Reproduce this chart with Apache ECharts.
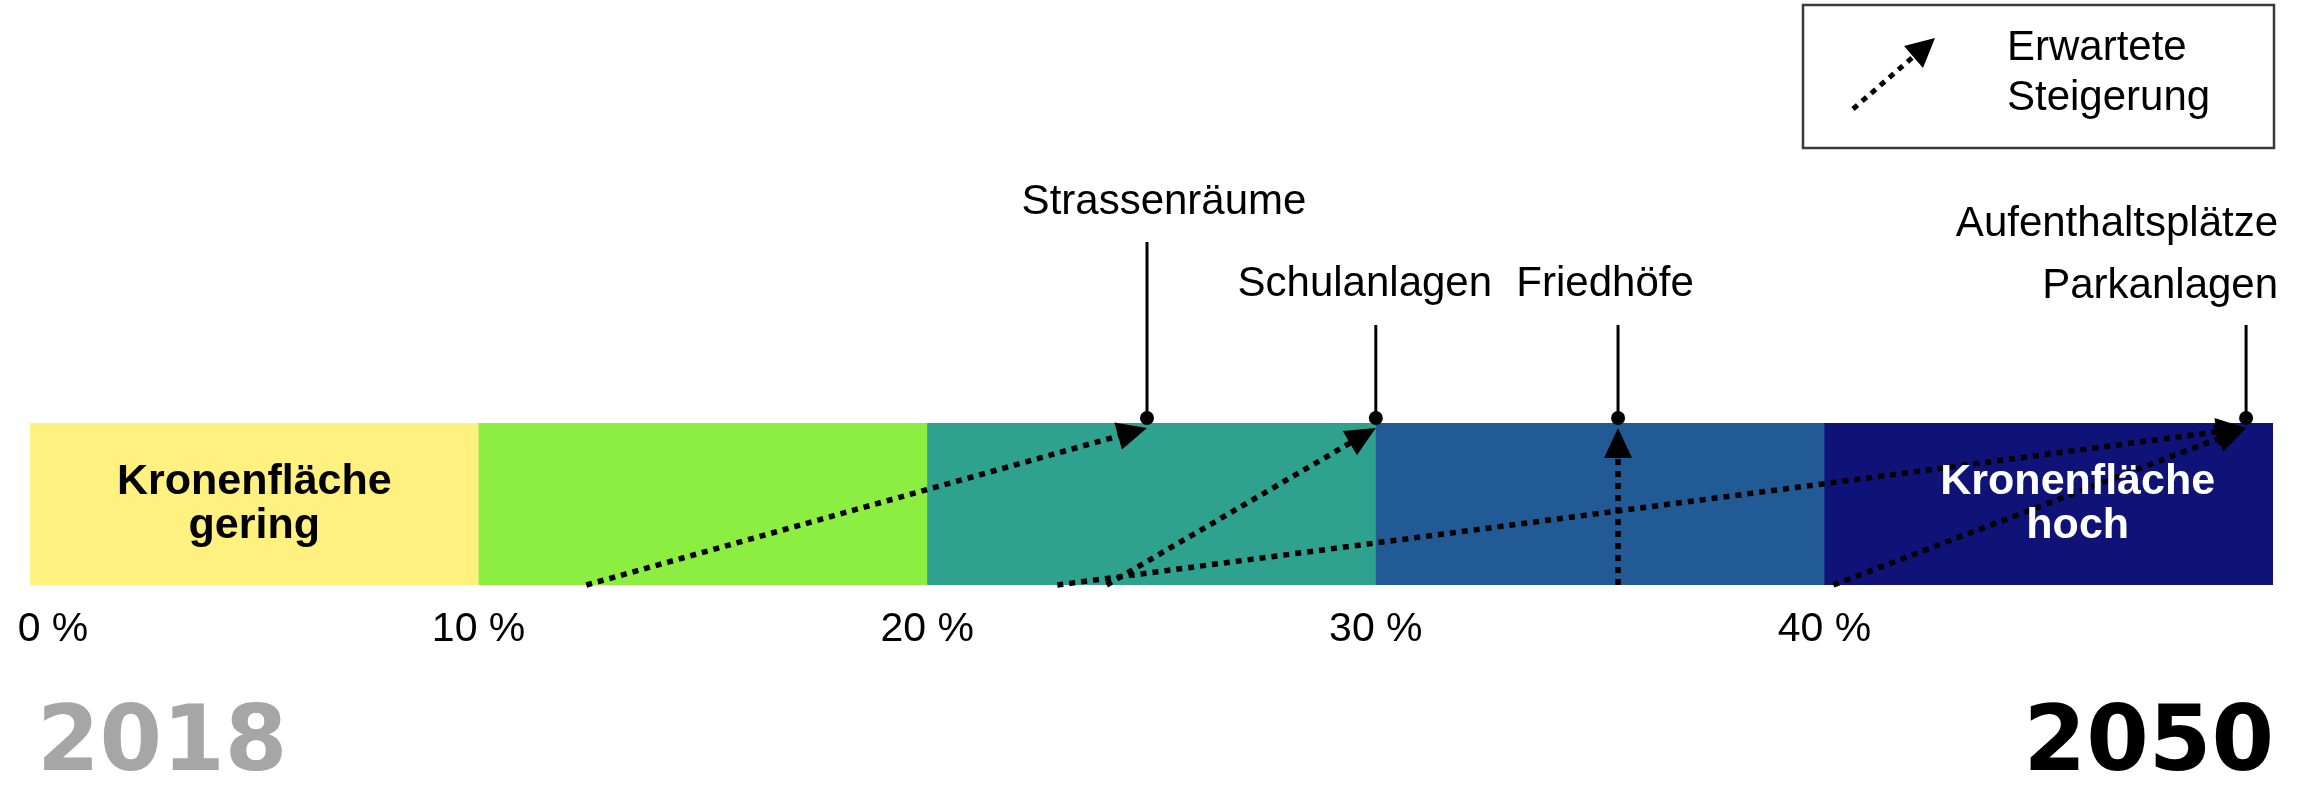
<!DOCTYPE html>
<html>
<head>
<meta charset="utf-8">
<script src="https://cdn.jsdelivr.net/npm/echarts@6/dist/echarts.min.js"></script>
<style>
html, body { margin: 0; padding: 0; background: #fff; }
#chart { width: 2310px; height: 785px; }
</style>
</head>
<body>
<div id="chart"></div>
<script>
// Skala Kronenfläche (%)
const tickValues = [0, 10, 20, 30, 40]
const segmentStart = [0, 10, 20, 30, 40]
const segmentEnd = [10, 20, 30, 40, 50]
const segmentLabels = ['Kronenfläche\ngering', '', '', '', 'Kronenfläche\nhoch']

// Zielwerte 2050 je Freiraumtyp
const targetNames = ['Strassenräume', 'Schulanlagen', 'Friedhöfe', 'Aufenthaltsplätze\nParkanlagen']
const targetValues = [24.9, 30, 35.4, 49.4]

// erwartete Steigerung: Stand 2018 -> Ziel 2050
const arrowFrom = [12.4, 24.0, 35.4, 22.9, 40.2]
const arrowTo = [24.9, 30, 35.4, 49.4, 49.4]

const yearStart = '2018'
const yearEnd = '2050'
const legendText = 'Erwartete\nSteigerung'

// styles / layout
const font = '"Liberation Sans", Arial, sans-serif'
const yearFont = '"DejaVu Sans", "Liberation Sans", sans-serif'
const segmentColors = ['#fff17f', '#8dee42', '#2fa28f', '#225a95', '#0f1277']
const segmentTextColors = ['#000', '#000', '#fff', '#fff', '#fff']
const segmentLabelShift = [0, 0, 0, 0, 29]
const stemHeight = [181, 98, 98, 98]
const labelRise = [221, 139, 139, 168]
const labelShift = [17, -11, -13, 32]
const labelAlign = ['center', 'center', 'center', 'right']

const chart = echarts.init(document.getElementById('chart'))

function renderSegment (params, api) {
  const i = params.dataIndex
  const p0 = api.coord([api.value(0), 1])
  const p1 = api.coord([api.value(1), 0])
  const extra = i < segmentStart.length - 1 ? 1 : 0
  return {
    type: 'rect',
    shape: { x: p0[0], y: p0[1], width: p1[0] - p0[0] + extra, height: p1[1] - p0[1] },
    style: { fill: segmentColors[i] }
  }
}

function renderSegmentLabel (params, api) {
  const i = params.dataIndex
  const a = api.coord([api.value(0), 0.5])
  const b = api.coord([api.value(1), 0.5])
  return {
    type: 'text',
    x: (a[0] + b[0]) / 2 + segmentLabelShift[i],
    y: a[1],
    style: {
      text: segmentLabels[i],
      fill: segmentTextColors[i],
      fontFamily: font,
      fontWeight: 'bold',
      fontSize: 43,
      lineHeight: 44,
      align: 'center',
      verticalAlign: 'middle'
    }
  }
}

function renderArrow (params, api) {
  const p0 = api.coord([api.value(0), 0])
  const top = api.coord([api.value(1), 1])
  const tip = [top[0], top[1] + 5]
  const dx = tip[0] - p0[0]
  const dy = tip[1] - p0[1]
  const len = Math.sqrt(dx * dx + dy * dy)
  const ux = dx / len
  const uy = dy / len
  const headLen = 30
  const headW = 28
  const base = [tip[0] - ux * headLen, tip[1] - uy * headLen]
  const nx = -uy
  const ny = ux
  return {
    type: 'group',
    children: [
      {
        type: 'line',
        shape: { x1: p0[0], y1: p0[1], x2: base[0] + ux * 2, y2: base[1] + uy * 2 },
        style: { stroke: '#000', lineWidth: 5.5, lineDash: [6, 6], lineCap: 'butt' }
      },
      {
        type: 'polygon',
        shape: {
          points: [
            tip,
            [base[0] + nx * headW / 2, base[1] + ny * headW / 2],
            [base[0] - nx * headW / 2, base[1] - ny * headW / 2]
          ]
        },
        style: { fill: '#000' }
      }
    ]
  }
}

function renderTarget (params, api) {
  const i = params.dataIndex
  const p = api.coord([api.value(0), 1])
  return {
    type: 'group',
    children: [
      {
        type: 'line',
        shape: { x1: p[0], y1: p[1] - 5, x2: p[0], y2: p[1] - stemHeight[i] },
        style: { stroke: '#000', lineWidth: 3 }
      },
      {
        type: 'circle',
        shape: { cx: p[0], cy: p[1] - 5, r: 7 },
        style: { fill: '#000' }
      },
      {
        type: 'text',
        x: p[0] + labelShift[i],
        y: p[1] - labelRise[i],
        style: {
          text: targetNames[i],
          fill: '#000',
          fontFamily: font,
          fontSize: 42,
          lineHeight: 62,
          align: labelAlign[i],
          verticalAlign: 'middle'
        }
      }
    ]
  }
}

const option = {
  animation: false,
  backgroundColor: '#fff',
  grid: {
    left: 30,
    right: 37,
    top: 423,
    bottom: 200,
    outerBoundsMode: 'none'
  },
  xAxis: {
    type: 'value',
    min: 0,
    max: 50,
    interval: 10,
    axisLine: { show: false },
    axisTick: { show: false },
    splitLine: { show: false },
    axisLabel: {
      margin: 24,
      color: '#000',
      fontFamily: font,
      fontSize: 41,
      formatter: function (v) {
        if (v === tickValues[0]) return '{first|' + v + ' %}'
        return tickValues.indexOf(v) >= 0 ? v + ' %' : ''
      },
      rich: {
        first: { padding: [0, 0, 0, 46], color: '#000', fontFamily: font, fontSize: 41 }
      }
    }
  },
  yAxis: {
    type: 'value',
    min: 0,
    max: 1,
    show: false
  },
  series: [
    {
      type: 'custom',
      z: 1,
      clip: false,
      renderItem: renderSegment,
      encode: { x: [0, 1] },
      data: segmentStart.map((s, i) => [s, segmentEnd[i]])
    },
    {
      type: 'custom',
      z: 2,
      clip: false,
      renderItem: renderArrow,
      encode: { x: [0, 1] },
      data: arrowFrom.map((f, i) => [f, arrowTo[i]])
    },
    {
      type: 'custom',
      z: 3,
      clip: false,
      renderItem: renderSegmentLabel,
      encode: { x: [0, 1] },
      data: segmentStart.map((s, i) => [s, segmentEnd[i]])
    },
    {
      type: 'custom',
      z: 3,
      clip: false,
      renderItem: renderTarget,
      encode: { x: 0 },
      data: targetValues.map(v => [v])
    }
  ],
  graphic: [
    {
      type: 'rect',
      shape: { x: 1803, y: 5, width: 471, height: 143 },
      style: { fill: '#fff', stroke: '#3a3a3a', lineWidth: 2.5 }
    },
    {
      type: 'line',
      shape: { x1: 1853, y1: 109, x2: 1913, y2: 57 },
      style: { stroke: '#000', lineWidth: 5, lineDash: [6, 6] }
    },
    {
      type: 'polygon',
      shape: { points: [[1935, 38], [1904, 46], [1923, 68]] },
      style: { fill: '#000' }
    },
    {
      type: 'text',
      x: 2007,
      y: 73,
      style: {
        text: legendText,
        fill: '#000',
        fontFamily: font,
        fontSize: 42,
        lineHeight: 50,
        align: 'left',
        verticalAlign: 'middle'
      }
    },
    {
      type: 'text',
      x: 37,
      y: 747,
      style: {
        text: yearStart,
        fill: '#a6a6a6',
        fontFamily: yearFont,
        fontWeight: 'bold',
        fontSize: 90,
        align: 'left',
        verticalAlign: 'middle'
      }
    },
    {
      type: 'text',
      x: 2274,
      y: 747,
      style: {
        text: yearEnd,
        fill: '#000',
        fontFamily: yearFont,
        fontWeight: 'bold',
        fontSize: 90,
        align: 'right',
        verticalAlign: 'middle'
      }
    }
  ]
}

chart.setOption(option)
</script>
</body>
</html>
